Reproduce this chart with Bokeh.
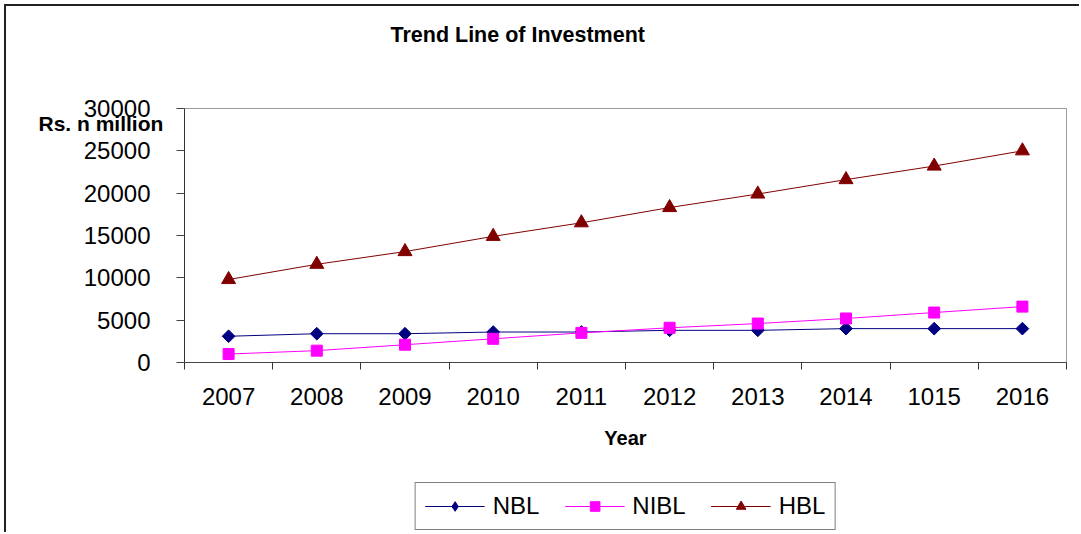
from bokeh.plotting import figure
from bokeh.models import (Range1d, FixedTicker, Title, Legend, LegendItem)
from bokeh.layouts import column
from bokeh.embed import file_html
from bokeh.resources import INLINE
import numpy as np

# ---- data ----
years = ["2007", "2008", "2009", "2010", "2011", "2012", "2013", "2014", "1015", "2016"]
nbl = [3100, 3400, 3400, 3600, 3600, 3800, 3800, 4000, 4000, 4000]
nibl = [1000, 1400, 2100, 2800, 3500, 4100, 4600, 5200, 5900, 6600]
hbl = [9800, 11600, 13100, 14900, 16500, 18300, 19900, 21600, 23200, 25000]
y_ticks = [0, 5000, 10000, 15000, 20000, 25000, 30000]

series_names = ["NBL", "NIBL", "HBL"]
title_text = "Trend Line of Investment"
y_title = "Rs. n million"
x_title = "Year"

FONT = "Liberation Sans"
C_NBL, C_NIBL, C_HBL = "#000080", "#FF00FF", "#800000"

n = len(years)
xc = [i + 0.5 for i in range(n)]
bounds = list(range(n + 1))


def add_series(fig, nbl_marker="square", nbl_angle=np.pi / 4, nbl_size=9):
    out = []
    out.append([fig.line(xc, nbl, line_color=C_NBL, line_width=1),
                fig.scatter(xc, nbl, marker=nbl_marker, angle=nbl_angle, size=nbl_size,
                            fill_color=C_NBL, line_color=C_NBL)])
    out.append([fig.line(xc, nibl, line_color=C_NIBL, line_width=1),
                fig.scatter(xc, nibl, marker="square", size=11,
                            fill_color=C_NIBL, line_color=C_NIBL)])
    out.append([fig.line(xc, hbl, line_color=C_HBL, line_width=1),
                fig.scatter(xc, hbl, marker="triangle", size=14,
                            fill_color=C_HBL, line_color=C_HBL)])
    return out


# ---------------- main chart ----------------
main = figure(width=1073, height=464, output_backend="svg", toolbar_location=None,
              x_range=Range1d(0, n), y_range=Range1d(0, 30000),
              min_border_left=178, min_border_right=13,
              min_border_top=102, min_border_bottom=108)
main.grid.visible = False
main.outline_line_color = "#9a9a9a"
main.outline_line_width = 1
main.background_fill_color = "white"
main.border_fill_color = "white"

xa = main.xaxis[0]
xa.ticker = FixedTicker(ticks=xc, minor_ticks=bounds)
xa.major_label_overrides = {c: y for c, y in zip(xc, years)}
xa.major_tick_line_color = None
xa.major_tick_in = 0
xa.major_tick_out = 0
xa.minor_tick_in = 0
xa.minor_tick_out = 7
xa.minor_tick_line_color = "#333333"
xa.axis_line_color = "#444444"
xa.major_label_text_font = FONT
xa.major_label_text_font_size = "24px"
xa.major_label_text_color = "black"
xa.major_label_standoff = 18
xa.axis_label = x_title
xa.axis_label_text_font = FONT
xa.axis_label_text_font_style = "bold"
xa.axis_label_text_font_size = "20px"
xa.axis_label_text_color = "black"
xa.axis_label_standoff = 19

ya = main.yaxis[0]
ya.ticker = FixedTicker(ticks=y_ticks, minor_ticks=[])
ya.major_tick_in = 0
ya.major_tick_out = 8
ya.major_tick_line_color = "#444444"
ya.axis_line_color = "#333333"
ya.major_label_text_font = FONT
ya.major_label_text_font_size = "24px"
ya.major_label_text_color = "black"
ya.major_label_standoff = 26

add_series(main)

# y-axis caption (innermost "above" panel, pushed down next to the 30000 label)
main.add_layout(Title(text=y_title, align="left", offset=-146, vertical_align="bottom",
                      standoff=-53, text_font=FONT, text_font_style="bold",
                      text_font_size="21px", text_color="black"), "above")
# blank spacer panel that lifts the chart title
main.add_layout(Title(text=" ", align="left", offset=0, vertical_align="bottom",
                      standoff=36, text_font=FONT, text_font_size="21.5px"), "above")
# chart title (outermost)
main.title = Title(text=title_text, align="left", offset=206, vertical_align="bottom",
                   standoff=0, text_font=FONT, text_font_style="bold",
                   text_font_size="21.5px", text_color="black")
main.title_location = "above"

# ---------------- legend strip (same frame width as the chart) ----------------
leg = figure(width=1073, height=62, output_backend="svg", toolbar_location=None,
             x_range=Range1d(-20, -19), y_range=Range1d(-20, -19),
             x_axis_location=None, y_axis_location=None,
             min_border_left=178, min_border_right=13,
             min_border_top=10, min_border_bottom=0)
leg.grid.visible = False
leg.outline_line_color = None
leg.background_fill_color = "white"
leg.border_fill_color = "white"

# same series, outside this strip's range: used only for the legend glyphs
r = add_series(leg, nbl_marker="diamond", nbl_angle=0, nbl_size=15)

legend = Legend(items=[LegendItem(label=nm, renderers=rr) for nm, rr in zip(series_names, r)],
                orientation="horizontal", location="center",
                label_text_font=FONT, label_text_font_size="24px",
                label_text_color="black",
                glyph_width=60, glyph_height=24, label_standoff=8, spacing=25,
                padding=9, margin=0,
                border_line_color="black", border_line_width=1,
                background_fill_color="white", background_fill_alpha=1)
leg.add_layout(legend, "center")

p = column(main, leg, spacing=0)
p.styles = {"border-top": "2px solid #222222", "border-left": "2px solid #222222",
            "margin-top": "4px", "margin-left": "4px"}

open("out.html", "w").write(file_html(p, INLINE))
